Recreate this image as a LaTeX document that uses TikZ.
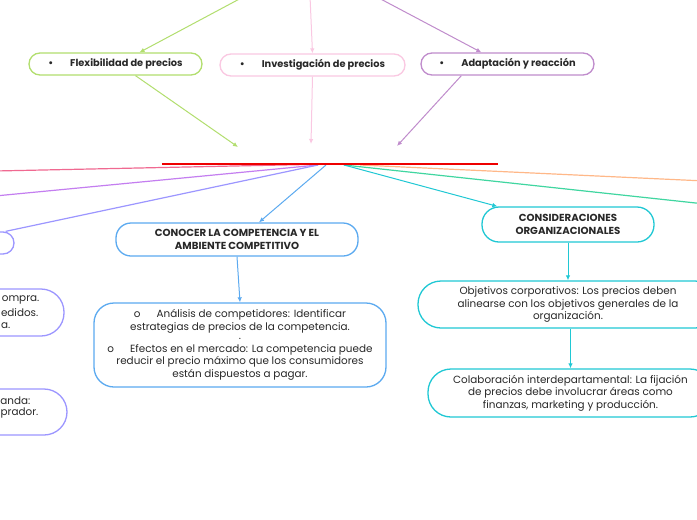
\documentclass[tikz,border=0pt]{standalone}
\usepackage{fontspec}
\setmainfont{Poppins}
\usetikzlibrary{arrows.meta, positioning}
\definecolor{flexgreen}{RGB}{178, 222, 110}
\definecolor{invpink}{RGB}{250, 200, 226}
\definecolor{adaptpurple}{RGB}{192, 140, 204}
\definecolor{hubred}{RGB}{238, 0, 0}
\definecolor{rosered}{RGB}{240, 105, 145}
\definecolor{violetline}{RGB}{196, 126, 240}
\definecolor{lavender}{RGB}{156, 150, 255}
\definecolor{compblue}{RGB}{92, 170, 240}
\definecolor{orgcyan}{RGB}{32, 200, 212}
\definecolor{tealgreen}{RGB}{64, 214, 160}
\definecolor{peach}{RGB}{255, 184, 136}
\definecolor{inktext}{RGB}{40, 40, 40}

\begin{document}
\begin{tikzpicture}[
  x=1pt, y=-1pt,
  topic/.style={
    rectangle, rounded corners=11pt, fill=white,
    line width=1.3pt, minimum height=22pt, inner sep=0pt,
    text=inktext, font=\fontsize{9.8}{11}\selectfont\bfseries
  },
  subbox/.style={
    rectangle, fill=white, line width=1.3pt, inner sep=0pt,
    align=center, text=inktext, font=\fontsize{10.4}{12.5}\selectfont
  },
  head/.style={subbox, font=\fontsize{10.2}{12.5}\selectfont\bfseries},
  arrow/.style={-{Latex[length=5pt,width=4.5pt]}, line width=1pt},
  link/.style={line width=1.2pt}
]
  \useasboundingbox (0,0) rectangle (697,520);
  \fill[white] (0,0) rectangle (697,520);
  \clip (0,0) rectangle (697,520);

  % central topic and its underline
  \node[minimum width=336pt, minimum height=0pt, inner sep=0pt] (hub) at (330,164) {};
  \coordinate (inL) at (238,147);
  \coordinate (inM) at (311,144);
  \coordinate (inR) at (397,146);
  \coordinate (hubA) at (318,165);
  \coordinate (hubB) at (326,165);
  \coordinate (hubC) at (344,165);
  \coordinate (hubD) at (360,165);

  % loose ends above the picture
  \coordinate (topG) at (245,-4);
  \coordinate (topP) at (310,-4);
  \coordinate (topV) at (375,-4);

  % first row
  \node[topic, draw=flexgreen, minimum width=173pt] (flex) at (115.5,64)
    {\textbullet\hspace{17pt}Flexibilidad de precios};
  \node[topic, draw=invpink, minimum width=185pt] (inv) at (312.5,65)
    {\textbullet\hspace{17pt}Investigación de precios};
  \node[topic, draw=adaptpurple, minimum width=173pt] (adapt) at (507.5,64)
    {\textbullet\hspace{17pt}Adaptación y reacción};

  \draw[arrow, flexgreen] (topG) -- ([xshift=24pt]flex.north);
  \draw[arrow, invpink] (topP) -- (inv.north);
  \draw[arrow, adaptpurple] (topV) -- ([xshift=61pt]adapt.north west);
  \draw[arrow, flexgreen] ([xshift=20pt]flex.south) -- (inL);
  \draw[arrow, invpink] (inv.south) -- (inM);
  \draw[arrow, adaptpurple] ([xshift=41pt]adapt.south west) -- (inR);

  % left branch (mostly outside)
  \node[topic, draw=lavender, minimum width=130pt] (leftA) at (-51,243) {};
  \node[subbox, draw=lavender, rounded corners=23pt, minimum width=200pt, minimum height=47pt] (leftB) at (-36,312.5) {};
  \node[subbox, draw=lavender, rounded corners=23pt, minimum width=200pt, minimum height=46pt] (leftC) at (-33,412) {};
  \node[subbox, anchor=east] (leftB1) at (40,300) {ompra.};
  \node[subbox, anchor=east] (leftB2) at (39,313) {edidos.};
  \node[subbox, anchor=east] (leftB3) at (11,326) {a.};
  \node[subbox, anchor=east] (leftC1) at (31,401) {anda:};
  \node[subbox, anchor=east] (leftC2) at (39,413) {prador.};

  % competition
  \node[head, draw=compblue, rounded corners=15pt, minimum width=242pt, minimum height=33pt] (conocer) at (237,239.5)
    {CONOCER LA COMPETENCIA Y EL\\AMBIENTE COMPETITIVO};
  \node[subbox, draw=compblue, rounded corners=20pt, minimum width=292pt, minimum height=84pt] (analisis) at (240,345)
    {o\hspace{16pt}Análisis de competidores: Identificar\\
     estrategias de precios de la competencia.\hspace{18pt}\\[-3pt]
     .\\
     o\hspace{16pt}Efectos en el mercado: La competencia puede\\
     reducir el precio máximo que los consumidores\\
     están dispuestos a pagar.};

  % organisation
  \node[head, draw=orgcyan, rounded corners=17pt, minimum width=172pt, minimum height=35pt] (consid) at (568,224.5)
    {CONSIDERACIONES\\ORGANIZACIONALES};
  \node[subbox, draw=orgcyan, rounded corners=23pt, minimum width=300pt, minimum height=47pt] (objetivos) at (568,304.5)
    {Objetivos corporativos: Los precios deben\\
     alinearse con los objetivos generales de la\\
     organización.};
  \node[subbox, draw=orgcyan, rounded corners=23pt, minimum width=285pt, minimum height=48pt] (colab) at (570.5,393)
    {Colaboración interdepartamental: La fijación\\
     de precios debe involucrar áreas como\\
     finanzas, marketing y producción.};

  % branches out of the central topic
  \draw[link, rosered] (hub.center) -- (-5,171);
  \draw[link, violetline] (hubA) -- (-5,196);
  \draw[link, lavender] (hubA) -- ([xshift=-9pt]leftA.north east);
  \draw[link, peach] (hubD) -- (705,181);
  \draw[link, tealgreen] (hubC) -- (705,204);
  \draw[arrow, compblue] (hubB) -- ([xshift=22pt]conocer.north);
  \draw[arrow, orgcyan] (hubC) -- ([xshift=16pt]consid.north west);
  \draw[hubred, line width=2pt] (hub.west) -- (hub.east);

  \draw[arrow, compblue] (conocer.south) -- (analisis.north);
  \draw[arrow, orgcyan] (consid.south) -- (objetivos.north);
  \draw[arrow, orgcyan] (objetivos.south -| colab.north) -- (colab.north);
\end{tikzpicture}
\end{document}
